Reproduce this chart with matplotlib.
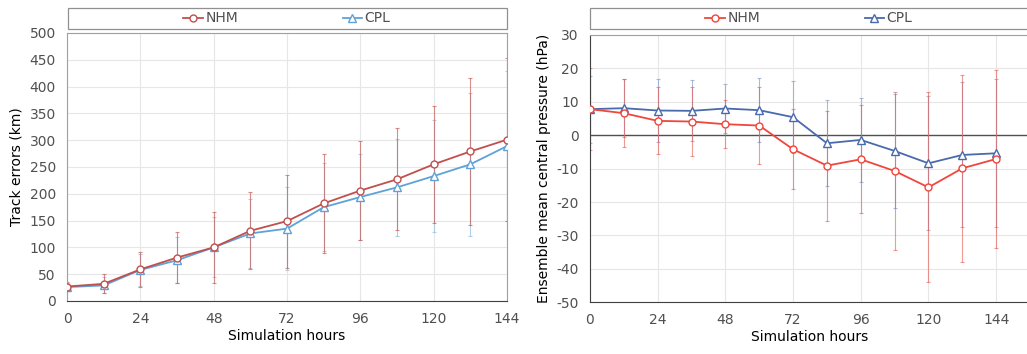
import numpy as np
import matplotlib
matplotlib.use("Agg")
import matplotlib.pyplot as plt
from matplotlib.patches import Rectangle

plt.rcParams['font.family'] = ['DejaVu Sans']
plt.rcParams['axes.unicode_minus'] = False
plt.rcParams['text.color'] = '#505050'
plt.rcParams['xtick.color'] = '#505050'
plt.rcParams['ytick.color'] = '#505050'

hours = [0, 12, 24, 36, 48, 60, 72, 84, 96, 108, 120, 132, 144]

# track errors (km)
track_nhm = [27, 32, 59, 81, 100, 131, 149, 182, 206, 227, 255, 279, 301]
track_nhm_err = [8, 18, 33, 48, 66, 72, 87, 92, 93, 95, 109, 137, 152]
track_cpl = [26, 29, 58, 76, 100, 126, 135, 175, 194, 212, 233, 255, 289]
track_cpl_err = [7, 15, 30, 43, 56, 64, 78, 82, 80, 91, 104, 133, 140]

# ensemble mean central pressure (hPa)
pres_nhm = [7.8, 6.6, 4.3, 4.1, 3.3, 2.9, -4.2, -9.1, -7.2, -10.7, -15.6, -9.9, -7.1]
pres_nhm_err = [12.2, 10.2, 10.0, 10.3, 7.1, 11.4, 12.0, 16.5, 16.2, 23.5, 28.4, 28.0, 26.7]
pres_cpl = [7.8, 8.1, 7.4, 7.3, 8.0, 7.5, 5.4, -2.4, -1.4, -4.7, -8.4, -5.9, -5.4]
pres_cpl_err = [10.0, 8.7, 9.4, 9.1, 7.3, 9.6, 10.8, 12.9, 12.5, 17.0, 20.1, 21.7, 22.1]

W, H = 1027, 354
fig = plt.figure(figsize=(W / 100, H / 100), dpi=100)

ax1 = fig.add_axes([67 / W, 1 - 301 / H, 440 / W, 268 / H])
ax2 = fig.add_axes([590 / W, 1 - 302.3 / H, 440 / W, 267.3 / H])


def style(ax):
    ax.grid(True, color='#e6e6e6', lw=0.8)
    ax.set_axisbelow(True)
    ax.tick_params(length=0, labelsize=10, pad=8)
    for s in ['top', 'right', 'left']:
        ax.spines[s].set_color('#a0a0a0')
    ax.spines['bottom'].set_color('#404040')
    ax.set_xticks(range(0, 145, 24))
    ax.set_xlabel('Simulation hours', fontsize=10, labelpad=2)


# left panel
ax1.errorbar(hours, track_cpl, yerr=track_cpl_err, fmt='none', ecolor='#9ec4e4',
             elinewidth=0.8, capsize=1.5, capthick=0.8, alpha=0.8, zorder=2)
ax1.errorbar(hours, track_nhm, yerr=track_nhm_err, fmt='none', ecolor='#c8605a',
             elinewidth=0.8, capsize=1.5, capthick=0.8, alpha=0.7, zorder=2)
ax1.plot(hours, track_nhm, '-o', color='#c0504d', lw=1.3, ms=5, mfc='white',
         mew=1, label='NHM', zorder=4)
ax1.plot(hours, track_cpl, '-^', color='#5fa2d8', lw=1.3, ms=6, mfc='white',
         mew=1, label='CPL', zorder=3)
ax1.set_xlim(0, 144)
ax1.set_ylim(0, 500)
ax1.set_yticks(range(0, 501, 50))
ax1.set_ylabel('Track errors (km)', fontsize=10, labelpad=4)
style(ax1)

# right panel
ax2.axhline(0, color='#505050', lw=1, zorder=1)
ax2.errorbar(hours, pres_cpl, yerr=pres_cpl_err, fmt='none', ecolor='#8a9ccc',
             elinewidth=0.8, capsize=1.5, capthick=0.8, alpha=0.7, zorder=2)
ax2.errorbar(hours, pres_nhm, yerr=pres_nhm_err, fmt='none', ecolor='#e8564c',
             elinewidth=0.8, capsize=1.5, capthick=0.8, alpha=0.6, zorder=2)
ax2.plot(hours, pres_nhm, '-o', color='#f0463c', lw=1.3, ms=5, mfc='white',
         mew=1, label='NHM', zorder=4)
ax2.plot(hours, pres_cpl, '-^', color='#4a6aae', lw=1.3, ms=6, mfc='white',
         mew=1, label='CPL', zorder=3)
ax2.set_xlim(0, 156)
ax2.set_ylim(-50, 30)
ax2.set_yticks(range(-50, 31, 10))
ax2.set_ylabel('Ensemble mean central pressure (hPa)', fontsize=10, labelpad=4)
style(ax2)
ax2.spines['left'].set_color('#404040')
ax2.spines['right'].set_visible(False)

# legend boxes above each panel
for ax, x0, x1, cx in [(ax1, 68, 507, 287), (ax2, 590, 1040, 809)]:
    fig.patches.append(Rectangle((x0 / W, 1 - 29 / H), (x1 - x0) / W, 21 / H,
                                 transform=fig.transFigure, fill=False,
                                 edgecolor='#909090', lw=0.9))
    h, l = ax.get_legend_handles_labels()
    fig.legend(h, l, loc='center', bbox_to_anchor=(cx / W, 1 - 18.5 / H),
               ncol=2, frameon=False, fontsize=10, columnspacing=7.5,
               handlelength=1.4, handletextpad=0.2, borderpad=0)

fig.savefig('out.png', dpi=100)
